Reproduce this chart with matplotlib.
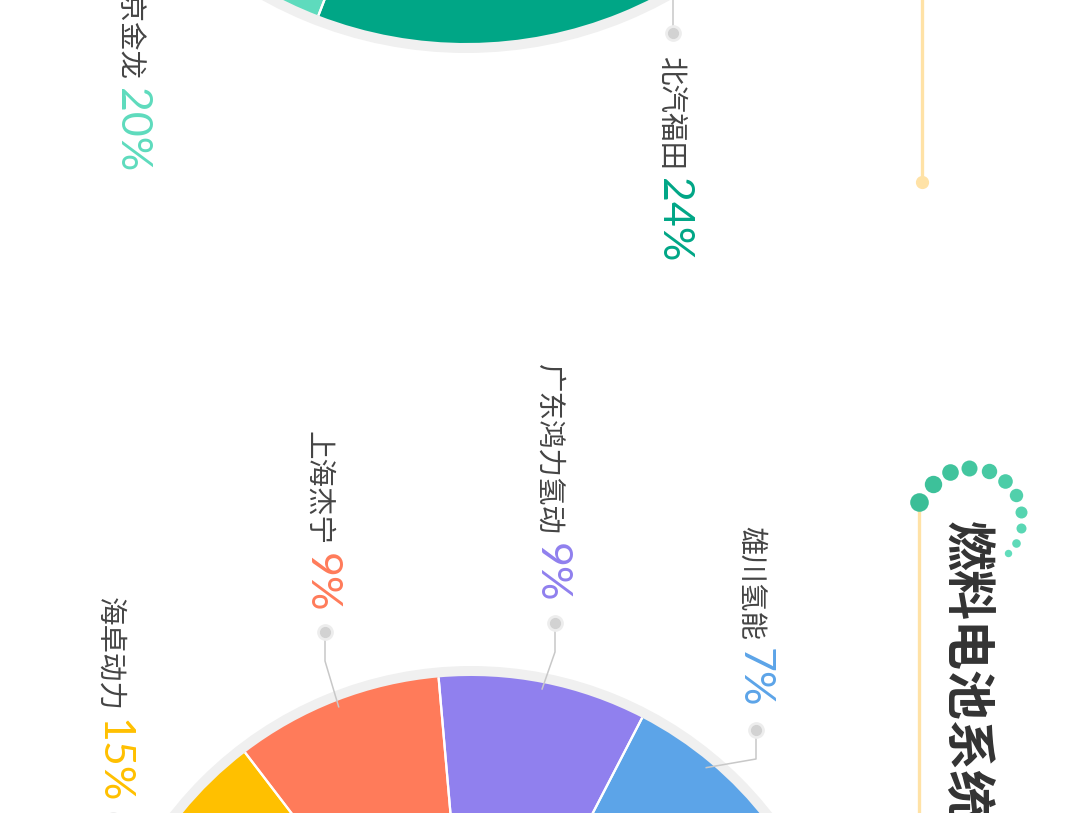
import numpy as np
import matplotlib
matplotlib.use("Agg")
import matplotlib.pyplot as plt

W, H = 1080, 813

# top pie, cut off by the top edge
top_names = ["南京金龙", "北汽福田"]
top_shares = [20, 24]
top_colors = ["#5EDBBD", "#00A686"]

# bottom pie, cut off by the bottom edge
bottom_names = ["海卓动力", "上海杰宁", "广东鸿力氢动", "雄川氢能"]
bottom_shares = [15, 9, 9, 7]
bottom_colors = ["#FFC000", "#FF7B5A", "#9080EE", "#5CA4E8"]

title = "燃料电池系统"

CJK = ["Noto Sans CJK SC", "DejaVu Sans"]
NUM = ["Lato", "DejaVu Sans"]
RIM = "#F0F0F0"
LEADER = "#C8C8C8"
ORANGE_LINE = "#FFE2A6"


def sy(y):
    # screen pixel row -> data y (y up)
    return H - y


def draw_pie(ax, shares, colors, center, radius, start, counterclock):
    ax.pie([1], colors=[RIM], radius=radius + 10, center=center,
           wedgeprops=dict(linewidth=0))
    wedges, _ = ax.pie([s / 100 for s in shares], colors=colors, radius=radius,
                       center=center, startangle=start, counterclock=counterclock,
                       normalize=False, wedgeprops=dict(linewidth=0))
    # white separators between slices
    for w in wedges:
        for t in (w.theta1, w.theta2):
            a = np.radians(t)
            ax.plot([center[0], center[0] + radius * np.cos(a)],
                    [center[1], center[1] + radius * np.sin(a)],
                    color="white", lw=1.6, solid_capstyle="butt")
    return wedges


def draw_label(ax, name, share, color, x, top):
    t = ax.text(x, sy(top), name, rotation=-90, ha="left", va="top",
                fontsize=20.5, color="#444444", family=CJK)
    fig.canvas.draw()
    bb = t.get_window_extent().transformed(ax.transData.inverted())
    ax.text(x - 1, bb.y0 - 8, f"{share}%", rotation=-90, ha="left", va="top",
            fontsize=31, color=color, family=NUM)


def draw_dot(ax, x, y):
    ax.plot(x, y, "o", ms=11, color="#EDEDED", zorder=5)
    ax.plot(x, y, "o", ms=7, color="#D2D2D2", zorder=6)


fig = plt.figure(figsize=(W / 100, H / 100), dpi=100)
ax = fig.add_axes([0, 0, 1, 1])

top_c = (466, sy(-367))
top_r = 410
draw_pie(ax, top_shares, top_colors, top_c, top_r, 176.9, True)

bot_c = (471, sy(1048))
bot_r = 372
wedges = draw_pie(ax, bottom_shares, bottom_colors, bot_c, bot_r, 181.4, False)

ax.set_xlim(0, W)
ax.set_ylim(0, H)
ax.set_aspect("auto")
ax.axis("off")

# ---- top labels
top_label_x = [113, 655]
top_label_y = [-34, 56]
for name, share, color, lx, ly in zip(top_names, top_shares, top_colors,
                                      top_label_x, top_label_y):
    draw_label(ax, name, share, color, lx, ly)
# leader of 北汽福田 (elbow is above the picture)
ax.plot([673, 673], [sy(33), sy(-40)], color=LEADER, lw=1.1)
draw_dot(ax, 673, sy(33))

# ---- bottom labels and leaders
bot_label_x = [94, 303, 533, 736]
bot_label_y = [597, 431, 364, 526]
dot_x = [113, 325, 555, 756]
dot_y = [820, 632, 623, 730]
for i, w in enumerate(wedges):
    draw_label(ax, bottom_names[i], bottom_shares[i], bottom_colors[i],
               bot_label_x[i], bot_label_y[i])
    mid = np.radians((w.theta1 + w.theta2) / 2)
    px = bot_c[0] + (bot_r - 6) * np.cos(mid)
    py = bot_c[1] + (bot_r - 6) * np.sin(mid)
    ex, ey = dot_x[i], sy(dot_y[i] + 29)
    ax.plot([px, ex, ex], [py, ey, sy(dot_y[i])], color=LEADER, lw=1.1, zorder=4)
    draw_dot(ax, dot_x[i], sy(dot_y[i]))

# ---- right column decoration
ax.plot([922, 922], [sy(-5), sy(182)], color=ORANGE_LINE, lw=2.4,
        solid_capstyle="butt")
ax.plot(922, sy(182), "o", ms=8.5, color=ORANGE_LINE)

ax.plot([919, 919], [sy(502), sy(820)], color=ORANGE_LINE, lw=2.4,
        solid_capstyle="butt")
arc_x = [919, 933, 950, 969, 989, 1005, 1016, 1021, 1021, 1016, 1008]
arc_y = [502, 484, 472, 468, 471, 481, 495, 512, 528, 543, 553]
arc_r = [9.3, 8.7, 8.3, 8.0, 7.7, 7.3, 6.7, 6.0, 5.0, 4.3, 3.7]
arc_c = ["#3BBE97", "#3DC19A", "#40C39C", "#43C69F", "#47C9A3", "#4CCDA7",
         "#51D0AB", "#56D4B0", "#5AD7B4", "#5EDAB8", "#62DDBC"]
for x, y, r, c in zip(arc_x, arc_y, arc_r, arc_c):
    ax.plot(x, sy(y), "o", ms=2 * r * 0.72, color=c, mec="none")

ax.text(940, sy(521), title, rotation=-90, ha="left", va="top", fontsize=36,
        fontweight="bold", color="#333333", family=CJK)

fig.savefig("out.png", dpi=100)
